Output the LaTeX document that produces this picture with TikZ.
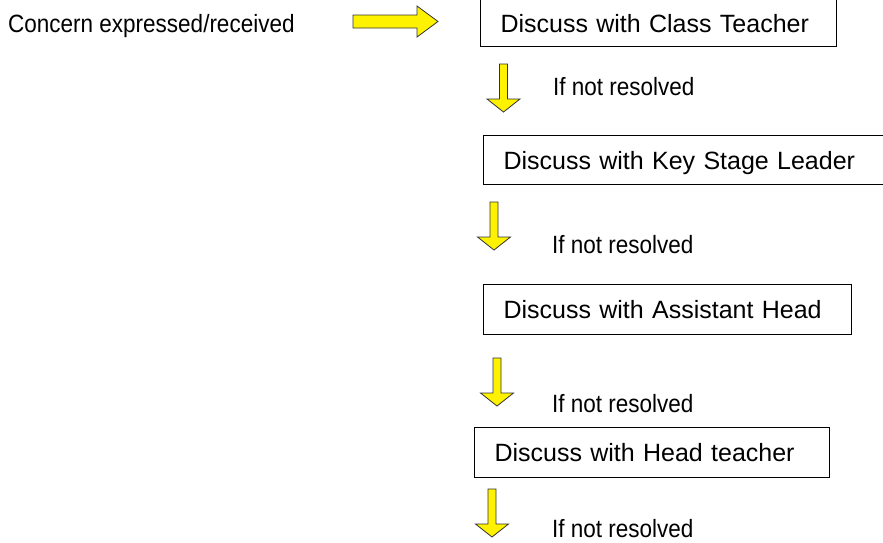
\documentclass[tikz,border=0pt]{standalone}
\usepackage{fontspec}
\setmainfont{Liberation Sans}
\newfontfamily\narrowfont{Liberation Sans}[FakeStretch=0.9]
\usetikzlibrary{positioning}

\tikzset{
  stagebox/.style={draw,line width=1pt,anchor=north west,inner xsep=20pt,inner ysep=0pt,
    text height=18pt,text depth=0pt,align=left,font=\fontsize{25}{30}\selectfont},
  note/.style={anchor=base west,inner sep=0pt,font=\narrowfont\fontsize{25}{30}\selectfont},
  blockarrow/.style={fill=yellow,draw=black!80,line width=0.8pt,line join=miter},
  downarrow/.pic={\draw[blockarrow] (-4,0) -- (4,0) -- (4,35) -- (16.5,35) -- (0,48) -- (-16.5,35) -- (-4,35) -- cycle;}
}

\begin{document}
\begin{tikzpicture}[x=1pt,y=-1pt]
		\useasboundingbox (0,0) rectangle (883,542);
		
		\node[note] (concern) at (8,32) {Concern expressed/received};
		\node[stagebox,text width=316pt,minimum height=52pt,text height=24pt] (classteacher) at (480,-6) {Discuss with Class Teacher};
		\node[stagebox,text width=370pt,minimum height=49pt] (keystage) at (483,135) {Discuss with Key Stage Leader};
		\node[stagebox,text width=328pt,minimum height=50pt] (assistant) at (483,284) {Discuss with Assistant Head};
		\node[stagebox,text width=315pt,minimum height=50pt] (head) at (474,427) {Discuss with Head teacher};
		
		\node[note] (notres1) at (553,95) {If not resolved};
		\node[note] (notres2) at (552,253) {If not resolved};
		\node[note] (notres3) at (552,412) {If not resolved};
		\node[note] (notres4) at (552,537) {If not resolved};
		
		% block arrows
		\draw[blockarrow] (353,15) -- (417,15) -- (417,6) -- (438,21.5) -- (417,37) -- (417,28) -- (353,28) -- cycle;
		\pic at (503.5,64) {downarrow};
		\pic at (494,202) {downarrow};
		\pic at (497,358) {downarrow};
		\pic at (492,489) {downarrow};
\end{tikzpicture}
\end{document}
